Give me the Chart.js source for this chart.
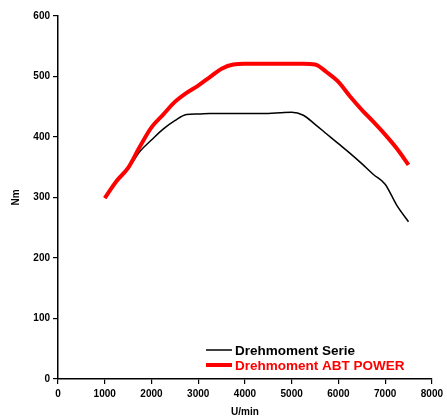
<!DOCTYPE html>
<html>
<head>
<meta charset="utf-8">
<script src="https://cdn.jsdelivr.net/npm/chart.js@4.4.1/dist/chart.umd.min.js"></script>
<style>
html,body{margin:0;padding:0;background:#fff;}
#wrap{width:447px;height:418px;position:relative;}
</style>
</head>
<body>
<div id="wrap"><canvas id="c" width="447" height="418"></canvas></div>
<script>
const rpm = [1000,1250,1500,1750,2000,2250,2500,2750,3000,3250,3500,3750,4000,4250,4500,4750,5000,5250,5500,5750,6000,6250,6500,6750,7000,7250,7500];
const serie = [300,326,347,376,395,413,427,437,438,439,439,439,439,439,439,440,441,436,421,405,389,373,356,338,322,287,260];
const abt   = [299,327,349,384,416,437,458,473,485,499,513,520,521,521,521,521,521,521,520,507,491,467,445,425,404,381,354];
const seriesLabels = ['Drehmoment Serie','Drehmoment ABT POWER'];
const xTitle = 'U/min';
const yTitle = 'Nm';

const pts = (ys) => rpm.map((x,i)=>({x:x,y:ys[i]}));

const legendPlugin = {
  id:'insideLegend',
  afterDraw(chart){
    const ctx = chart.ctx;
    const ca = chart.chartArea;
    ctx.save();
    chart.data.datasets.forEach((ds,i)=>{
      const y = ca.bottom - 29 + i*15;
      const x0 = ca.left + 148;
      ctx.strokeStyle = ds.borderColor;
      ctx.lineWidth = ds.borderWidth;
      ctx.beginPath(); ctx.moveTo(x0,y); ctx.lineTo(x0+26,y); ctx.stroke();
      ctx.fillStyle = ds.legendTextColor;
      ctx.font = 'bold 13.5px "Liberation Sans", Arial, sans-serif';
      ctx.textBaseline = 'middle';
      ctx.textAlign = 'left';
      ctx.fillText(ds.label, x0+29, y+1);
    });
    ctx.restore();
  }
};

const tickFont = {family:'"Liberation Sans", Arial, sans-serif', size:10, weight:'bold'};

new Chart(document.getElementById('c'), {
  type:'line',
  data:{
    datasets:[
      {label:seriesLabels[0], data:pts(serie), order:1, borderColor:'#000000', borderWidth:1.5, pointRadius:0, cubicInterpolationMode:'monotone', fill:false, legendTextColor:'#000000'},
      {label:seriesLabels[1], data:pts(abt), order:0, borderColor:'#ff0000', borderWidth:4, pointRadius:0, cubicInterpolationMode:'monotone', fill:false, legendTextColor:'#ff0000'}
    ]
  },
  options:{
    responsive:false,
    animation:false,
    devicePixelRatio:1,
    layout:{padding:{top:16,right:14,bottom:0,left:0}},
    plugins:{legend:{display:false}, tooltip:{enabled:false}},
    scales:{
      x:{
        type:'linear', min:0, max:8000,
        ticks:{stepSize:1000, color:'#000', font:tickFont, padding:4, maxRotation:0, callback:(v)=>String(v)},
        grid:{drawOnChartArea:false, drawTicks:true, tickLength:5, color:'#000', lineWidth:1.2},
        border:{color:'#000', width:1.5},
        title:{display:true, text:xTitle, color:'#000', font:tickFont, padding:{top:0,bottom:0}},
        afterFit(s){ s.height = 39; }
      },
      y:{
        min:0, max:600,
        ticks:{stepSize:100, color:'#000', font:tickFont, padding:3, callback:(v)=>String(v)},
        grid:{drawOnChartArea:false, drawTicks:true, tickLength:5, color:'#000', lineWidth:1.2},
        border:{color:'#000', width:1.5},
        title:{display:true, text:yTitle, color:'#000', font:tickFont, padding:{top:10,bottom:0}},
        afterFit(s){ s.width = 58; }
      }
    }
  },
  plugins:[legendPlugin]
});
</script>
</body>
</html>
